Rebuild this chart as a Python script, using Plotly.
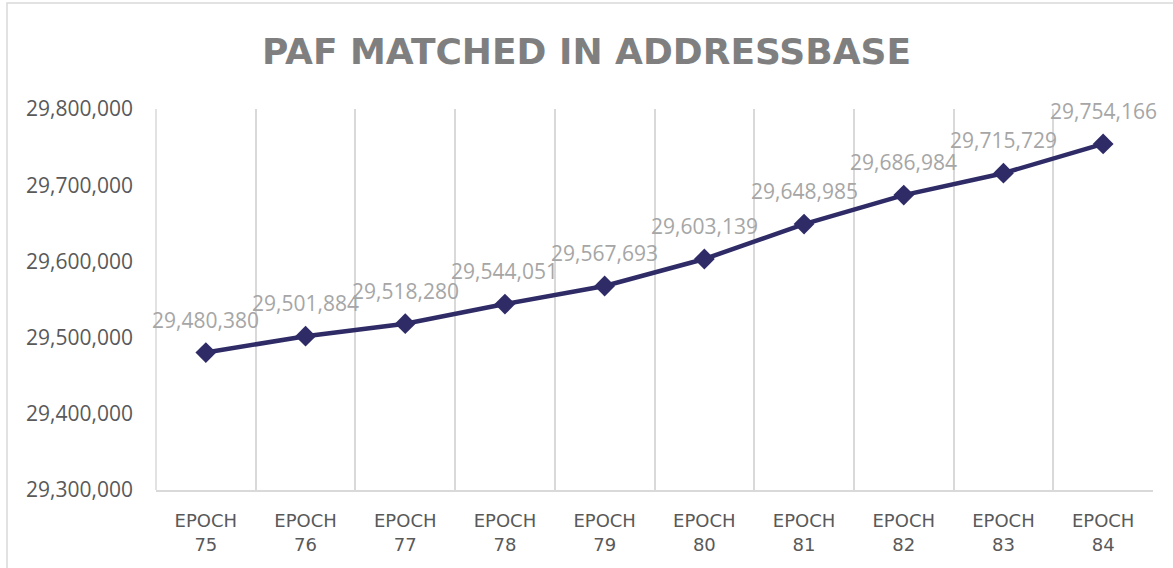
import plotly.graph_objects as go

categories = ["EPOCH<br>75", "EPOCH<br>76", "EPOCH<br>77", "EPOCH<br>78", "EPOCH<br>79",
              "EPOCH<br>80", "EPOCH<br>81", "EPOCH<br>82", "EPOCH<br>83", "EPOCH<br>84"]
values = [29480380, 29501884, 29518280, 29544051, 29567693,
          29603139, 29648985, 29686984, 29715729, 29754166]
y_ticks = [29300000, 29400000, 29500000, 29600000, 29700000, 29800000]

LINE = "#2f2b67"
GRID = "#d9d9d9"
FONT = "Open Sans, sans-serif"

fig = go.Figure()
fig.add_trace(go.Scatter(
    x=categories, y=values, mode="lines+markers",
    line=dict(color=LINE, width=4.5),
    marker=dict(symbol="diamond", size=16, color=LINE),
    hoverinfo="skip", showlegend=False,
))

for c, v in zip(categories, values):
    fig.add_annotation(x=c, y=v, text=f"{v:,}", showarrow=False, yshift=33,
                       font=dict(family=FONT, size=21, color="#a6a6a6"))

L, R, T, B = 156, 20, 109, 78
W, H = 1173, 568
pw, ph = W - L - R, H - T - B

fig.update_layout(
    width=W, height=H,
    margin=dict(l=L, r=R, t=T, b=B),
    paper_bgcolor="white", plot_bgcolor="white",
    title=dict(text="<b>PAF MATCHED IN ADDRESSBASE</b>", x=0.5, xref="container", xanchor="center",
               y=1 - 51 / H, yanchor="middle",
               font=dict(family="DejaVu Sans, sans-serif", size=36, color="#7f7f7f")),
    xaxis=dict(type="category", tickson="boundaries", showgrid=True, gridcolor=GRID, gridwidth=1.5,
               showline=True, linecolor=GRID, linewidth=1.5, ticks="", range=[-0.5, 9.5],
               ticklabelstandoff=14,
               tickfont=dict(family="DejaVu Sans, sans-serif", size=18, color="#595959")),
    yaxis=dict(range=[29300000, 29800000], tickvals=y_ticks, tickformat=",", showgrid=False,
               showline=False, zeroline=False, ticks="", ticklen=0, ticklabelstandoff=22,
               tickfont=dict(family=FONT, size=21, color="#595959")),
    shapes=[dict(type="line", xref="paper", yref="paper", x0=0, x1=0, y0=0, y1=1,
                 line=dict(color=GRID, width=1.5)),
            dict(type="rect", xref="paper", yref="paper",
                 x0=(7 - L) / pw, x1=(W + 5 - L) / pw, y0=-(B + 5) / ph, y1=1 + (T - 3) / ph,
                 line=dict(color="#d9d9d9", width=1.5), layer="below")],
)

fig.write_html("out.html", config={"displayModeBar": False},
               post_script="document.body.style.margin='0';document.body.style.overflow='hidden';")
